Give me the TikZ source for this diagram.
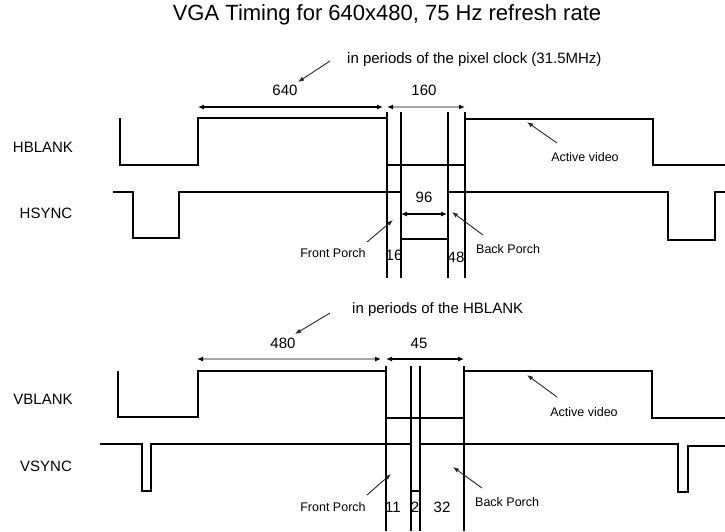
\documentclass[tikz,border=0pt]{standalone}
\usepackage{fontspec}
\setmainfont{Liberation Sans}
\usetikzlibrary{arrows.meta}
\begin{document}
\begin{tikzpicture}[x=1pt,y=-1pt,
  wave/.style={line width=1.1pt, black, line join=miter},
  guide/.style={line width=1.1pt, black},
  thick edge/.style={line width=2pt, black},
  dimblack/.style={line width=1.1pt, black, {Latex[length=6pt,width=5pt]}-{Latex[length=6pt,width=5pt]}, shorten <=0pt},
  dimgray/.style={line width=1.5pt, black!35, {Latex[length=6pt,width=5pt,black]}-{Latex[length=6pt,width=5pt,black]}},
  ptr/.style={line width=0.9pt, black!85, -{Latex[length=6pt,width=4.5pt]}},
  sig/.style={font=\fontsize{15}{18}\selectfont, inner sep=0pt},
  num/.style={font=\fontsize{15}{18}\selectfont, inner sep=0pt},
  note/.style={font=\fontsize{15}{18}\selectfont, inner sep=0pt, anchor=west},
  small/.style={font=\fontsize{12.5}{15}\selectfont, inner sep=0pt},
]
\useasboundingbox (0,0) rectangle (725,531);

% ---------- title ----------
\node[font=\fontsize{22}{26}\selectfont, inner sep=0pt] (title) at (387,15) {VGA Timing for 640x480, 75 Hz refresh rate};

% ---------- top section: horizontal timing ----------
\node[sig] (hblank) at (43,147) {HBLANK};
\node[sig] (hsync) at (46,213) {HSYNC};

% HBLANK waveform
\draw[wave] (120,118) -- (120,165) -- (198,165) -- (198,118) -- (387,118) -- (387,165)
  -- (465,165) -- (465,119) -- (653,119) -- (653,165) -- (725,165);
\draw[thick edge] (387,118) -- (387,165);
\draw[thick edge] (465,119) -- (465,165);

% HSYNC waveform
\draw[wave] (113,192) -- (133,192) -- (133,238) -- (179,238) -- (179,192) -- (401,192)
  -- (401,239) -- (448,239) -- (448,192) -- (668,192) -- (668,240) -- (715,240)
  -- (715,192) -- (725,192);

% guide lines
\draw[guide] (387,112) -- (387,278);
\draw[guide] (401,112) -- (401,278);
\draw[guide] (448,112) -- (448,278);
\draw[guide] (465,112) -- (465,278);

% dimension arrows
\coordinate (a640l) at (198,107);
\coordinate (a640r) at (383,107);
\coordinate (a160l) at (387,107);
\coordinate (a160r) at (465,107);
\draw[dimblack] (a640l) -- (a640r);
\draw[dimgray] (a160l) -- (a160r);
\node[num] (n640) at (285,90) {640};
\node[num] (n160) at (424,90) {160};

\coordinate (a96l) at (401,214);
\coordinate (a96r) at (447,214);
\draw[dimblack] (a96l) -- (a96r);
\node[num] (n96) at (424,197) {96};

\node[num] (n16) at (394,255) {16};
\node[num] (n48) at (456,257) {48};

% notes and pointers
\node[note] (notepix) at (347,60) {in periods of the pixel clock (31.5MHz)};
\coordinate (pixtail) at (330,61);
\coordinate (pixhead) at (298,82);
\draw[ptr] (pixtail) -- (pixhead);

\node[small] (fp1) at (333,253) {Front Porch};
\coordinate (fp1tail) at (367,242);
\coordinate (fp1head) at (393,220);
\draw[ptr] (fp1tail) -- (fp1head);

\node[small, anchor=west] (bp1) at (476,249) {Back Porch};
\coordinate (bp1tail) at (483,235);
\coordinate (bp1head) at (452,212);
\draw[ptr] (bp1tail) -- (bp1head);

\node[small] (av1) at (585,157) {Active video};
\coordinate (av1tail) at (557,143);
\coordinate (av1head) at (527,122);
\draw[ptr] (av1tail) -- (av1head);

% ---------- bottom section: vertical timing ----------
\node[sig] (vblank) at (43,399) {VBLANK};
\node[sig] (vsync) at (46,466) {VSYNC};

% VBLANK waveform
\draw[wave] (118,371) -- (118,417) -- (198,417) -- (198,371) -- (386,371) -- (386,418)
  -- (464,418) -- (464,371) -- (652,371) -- (652,418) -- (725,418);
\draw[thick edge] (386,371) -- (386,418);

% VSYNC waveform
\draw[wave] (100,444) -- (142,444) -- (142,491) -- (151,491) -- (151,444) -- (411,444)
  -- (411,491) -- (420,491) -- (420,444) -- (678,444) -- (678,492) -- (688,492)
  -- (688,446) -- (725,446);

% guide lines
\draw[guide] (386,366) -- (386,531);
\draw[guide] (411,366) -- (411,531);
\draw[guide] (420,366) -- (420,531);
\draw[guide] (464,366) -- (464,531);

% dimension arrows
\coordinate (a480l) at (197,359);
\coordinate (a480r) at (381,359);
\coordinate (a45l) at (386,359);
\coordinate (a45r) at (464,359);
\draw[dimgray] (a480l) -- (a480r);
\draw[dimblack] (a45l) -- (a45r);
\node[num] (n480) at (283,343) {480};
\node[num] (n45) at (419,343) {45};

\node[num] (n11) at (393,507) {11};
\node[num] (n2) at (415,507) {2};
\node[num] (n32) at (442,507) {32};

% notes and pointers
\node[note] (notehb) at (352,310) {in periods of the HBLANK};
\coordinate (hbtail) at (330,313);
\coordinate (hbhead) at (295,334);
\draw[ptr] (hbtail) -- (hbhead);

\node[small] (fp2) at (333,507) {Front Porch};
\coordinate (fp2tail) at (367,495);
\coordinate (fp2head) at (391,474);
\draw[ptr] (fp2tail) -- (fp2head);

\node[small, anchor=west] (bp2) at (475,502) {Back Porch};
\coordinate (bp2tail) at (482,488);
\coordinate (bp2head) at (453,467);
\draw[ptr] (bp2tail) -- (bp2head);

\node[small] (av2) at (584,412) {Active video};
\coordinate (av2tail) at (557,397);
\coordinate (av2head) at (527,375);
\draw[ptr] (av2tail) -- (av2head);

\end{tikzpicture}
\end{document}
